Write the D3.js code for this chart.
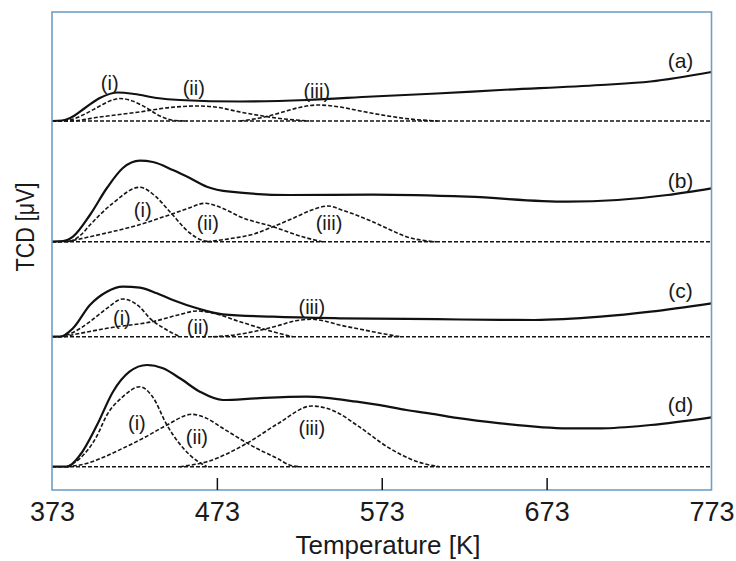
<!DOCTYPE html>
<html>
<head>
<meta charset="utf-8">
<script src="https://cdn.jsdelivr.net/npm/d3@7"></script>
<style>
  body { margin: 0; background: #fff; }
  svg text { font-family: "Liberation Sans", Arial, sans-serif; fill: #1a1a1a; }
</style>
</head>
<body>
<svg id="chart" width="736" height="561"></svg>
<script>
// TPD profiles, temperature [K] vs TCD signal (arbitrary units above each trace's baseline)
var xTicks = [373, 473, 573, 673, 773];
var panelNames = ["(a)", "(b)", "(c)", "(d)"];
var panelBase = [369, 248.3, 153.3, 23.3];
var peakNames = ["(i)", "(ii)", "(iii)"];

var aTotal = [[373,0],[379,0.5],[384,3],[393,13],[402,23],[413,28.5],[423,27],[436.6,23],[450.6,21],[487,19.5],[527.5,21],[567.5,24.5],[606.3,27.5],[645,31],[705.7,36],[736,39.5],[773,49]];
var aPeak1 = [[373,0],[380,0],[384,1],[393,7],[402,15],[408,20],[414,22.5],[420,21],[429.4,14],[438.5,5],[447.5,0.5],[455,0]];
var aPeak2 = [[373,0],[384,0],[402,4],[426,9],[444.5,13.5],[461.5,15],[474,13.5],[487,9],[499,5.5],[514,2],[529,0]];
var aPeak3 = [[487,0],[499,3],[511,8],[523,13.5],[534,16],[547.5,14],[560,10],[575,5.5],[590,2],[607,0]];

var bTotal = [[373,0],[379.7,0.5],[385.7,5],[396,26.7],[406.3,53.7],[416,73.7],[426.3,81],[434.2,79.7],[446.3,71.7],[456.6,63.7],[466.9,55],[481,50],[517,46.7],[567.5,47],[625,45],[685.7,40],[716,41.7],[746.3,46.7],[773,53.4]];
var bPeak1 = [[373,0],[382,0],[390,6],[396,16.7],[410,38.7],[426.3,54.4],[436,45],[444.5,30],[456.6,8.7],[465,1],[470,0]];
var bPeak2 = [[382,0],[406,8.7],[424,16],[442.7,26],[455,33],[465.7,38.4],[477,33],[487,25],[507,15],[527.5,3.7],[537,0]];
var bPeak3 = [[467,0],[481,3],[496,8],[507,15],[520,24],[531,32],[540.3,35.7],[550,31],[567.5,20],[578,12],[588,5],[597,1.5],[606,0]];

var cTotal = [[373,0],[377.8,0],[385.7,8.4],[396,31.7],[406.3,45],[416,50],[426.3,49],[436.6,43.4],[446.3,36.7],[461,28.4],[476.6,22.4],[507,20],[547.5,18.4],[606.3,17.5],[645,16.8],[665.7,16.7],[705.7,20],[736,25],[773,33.4]];
var cPeak1 = [[377.8,0],[384,3],[396,15],[406,28],[416,37.7],[426,30],[432.4,18.4],[442.7,6.7],[450.6,0]];
var cPeak2 = [[380,0],[406.3,8.4],[436.6,16],[450,22],[461,25.7],[472,23],[487,15],[507,5],[519,0]];
var cPeak3 = [[470.6,0],[485,2],[497,5.7],[510,11],[521,16],[530.6,17.4],[540,15],[547.5,11.7],[560,7.5],[567.5,5],[577,2],[584,0]];

var dTotal = [[373,0],[382,0],[390,11.7],[400.3,41.7],[410,75],[420,95],[430.6,101.7],[440.3,98.4],[450.6,88.4],[462.7,75],[476.6,66.7],[497,68.4],[527.5,70],[557.8,65],[572,61.5],[588,56.7],[605,52.5],[618.5,48.8],[645,43.4],[685.7,38.4],[705.7,38.4],[736,41.7],[773,49.4]];
var dPeak1 = [[382,0],[390,8.4],[400,30],[406.3,51.7],[416,70],[426.3,80],[434,70],[442.7,41.7],[456.6,11.7],[466.9,0]];
var dPeak2 = [[382,0],[390,1.7],[416,18.4],[430,30],[442.7,41.7],[457.8,52.4],[466,49],[476.6,38.4],[497,18.4],[510,8],[517,1.7],[523,0]];
var dPeak3 = [[450.6,0],[466.9,5],[491.2,23.4],[510,43],[530.6,60.7],[545,55],[557.8,41.7],[577.8,18.4],[590,8],[597.8,3.4],[608,0]];

// where the (i)/(ii)/(iii) names sit, [T, signal] per panel
var peakLabelAt = [
  [[408,38.3],[459,32.7],[533.6,30.3]],
  [[428,31.7],[467.5,18.4],[541,18.4]],
  [[415.4,18.4],[461.5,10],[530.6,30]],
  [[424.5,43.4],[460.9,30],[530.6,38.4]]
];
var panelLabelAt = [[754.2,61],[754.2,61.7],[754.2,46.7],[754.2,62.7]];

var totals = [aTotal, bTotal, cTotal, dTotal];
var peaks = [[aPeak1,aPeak2,aPeak3],[bPeak1,bPeak2,bPeak3],[cPeak1,cPeak2,cPeak3],[dPeak1,dPeak2,dPeak3]];

var svg = d3.select("#chart");
var plotL = 52, plotR = 711.5, plotT = 12, plotB = 490;

var x = d3.scaleLinear().domain([373, 773]).range([plotL, plotR]);
var y = d3.scaleLinear().domain([0, 478]).range([plotB, plotT]);

svg.append("rect").attr("width", 736).attr("height", 561).attr("fill", "#fff");

panelBase.forEach(function (base, i) {
  var line = d3.line()
    .x(function (d) { return x(d[0]); })
    .y(function (d) { return y(base + d[1]); })
    .curve(d3.curveMonotoneX);

  var g = svg.append("g");

  // dashed zero line of the trace
  g.append("line")
    .attr("x1", x(373)).attr("x2", x(773))
    .attr("y1", y(base)).attr("y2", y(base))
    .attr("stroke", "#151515").attr("stroke-width", 1.6)
    .attr("stroke-dasharray", "4,2");

  g.selectAll(".peak")
    .data(peaks[i])
    .enter().append("path")
    .attr("class", "peak")
    .attr("d", line)
    .attr("fill", "none")
    .attr("stroke", "#151515")
    .attr("stroke-width", 1.6)
    .attr("stroke-dasharray", "4,2");

  g.append("path")
    .datum(totals[i])
    .attr("d", line)
    .attr("fill", "none")
    .attr("stroke", "#111")
    .attr("stroke-width", 2.2);

  g.selectAll(".pl")
    .data(peakLabelAt[i])
    .enter().append("text")
    .attr("class", "pl")
    .attr("x", function (d) { return x(d[0]); })
    .attr("y", function (d) { return y(base + d[1]); })
    .attr("text-anchor", "middle")
    .attr("dominant-baseline", "central")
    .style("font-size", "20px")
    .text(function (d, j) { return peakNames[j]; });

  g.append("text")
    .attr("x", x(panelLabelAt[i][0]))
    .attr("y", y(base + panelLabelAt[i][1]))
    .attr("text-anchor", "middle")
    .attr("dominant-baseline", "central")
    .style("font-size", "21px")
    .text(panelNames[i]);
});

// frame
svg.append("rect")
  .attr("x", plotL).attr("y", plotT)
  .attr("width", plotR - plotL).attr("height", plotB - plotT)
  .attr("fill", "none")
  .attr("stroke", "#6f9fc4")
  .attr("stroke-width", 1.6);

var xAxis = svg.append("g")
  .attr("transform", "translate(0," + plotB + ")")
  .call(d3.axisBottom(x).tickValues(xTicks).tickSizeInner(-12).tickSizeOuter(0).tickPadding(12));

xAxis.select(".domain").remove();
xAxis.selectAll(".tick line")
  .attr("stroke", "#111").attr("stroke-width", 1.5)
  .filter(function (d) { return d === 373 || d === 773; }).remove();
xAxis.selectAll(".tick text")
  .attr("fill", "#1a1a1a")
  .style("font-size", "27px")
  .style("font-family", "'Liberation Sans', Arial, sans-serif");

svg.append("text")
  .attr("x", 388).attr("y", 554)
  .attr("text-anchor", "middle")
  .style("font-size", "26px")
  .text("Temperature [K]");

svg.append("text")
  .attr("transform", "translate(34,227) rotate(-90)")
  .attr("text-anchor", "middle")
  .attr("textLength", 89)
  .attr("lengthAdjust", "spacingAndGlyphs")
  .style("font-size", "26px")
  .text("TCD [μV]");
</script>
</body>
</html>
